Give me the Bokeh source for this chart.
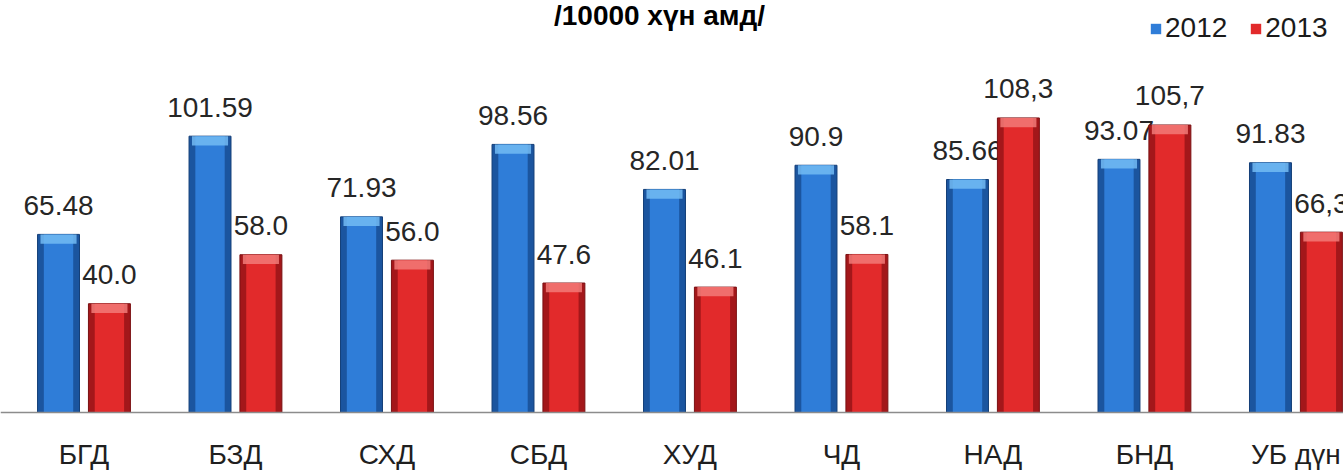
from bokeh.plotting import figure
from bokeh.models import ColumnDataSource, Range1d, Label, Legend, LegendItem, Span
from bokeh.transform import dodge
from bokeh.embed import file_html
from bokeh.resources import INLINE
from bokeh.core.properties import value

# ---- data ----
categories = ["БГД", "БЗД", "СХД", "СБД", "ХУД", "ЧД", "НАД", "БНД", "УБ дүн"]
series = ["2012", "2013"]
values_2012 = [65.48, 101.59, 71.93, 98.56, 82.01, 90.9, 85.66, 93.07, 91.83]
values_2013 = [40.0, 58.0, 56.0, 47.6, 46.1, 58.1, 108.3, 105.7, 66.3]
labels_2012 = ["65.48", "101.59", "71.93", "98.56", "82.01", "90.9", "85.66", "93.07", "91.83"]
labels_2013 = ["40.0", "58.0", "56.0", "47.6", "46.1", "58.1", "108,3", "105,7", "66,3"]
title_text = "/10000 хүн амд/"

# ---- style ----
FONT = "Liberation Sans"
W, H = 1343, 470
BAR_W = 0.277
OFF = 0.168
BEVEL = 3.4

idx = list(range(len(categories)))
src = ColumnDataSource(dict(
    x=idx, cat=categories, zero=[0] * len(idx),
    v12=values_2012, v13=values_2013, l12=labels_2012, l13=labels_2013,
    b12=[v - BEVEL for v in values_2012], b13=[v - BEVEL for v in values_2013],
))

p = figure(width=W, height=H, output_backend="svg", toolbar_location=None,
           x_range=Range1d(-0.551, 8.314), y_range=Range1d(-21.32, 151.47),
           x_axis_location=None, y_axis_location=None,
           min_border_left=0, min_border_right=0, min_border_top=0, min_border_bottom=0)
p.outline_line_color = None
p.grid.visible = False
p.background_fill_color = "white"
p.border_fill_color = "white"

# category axis line (baseline at value 0)
p.add_layout(Span(location=0, dimension="width", line_color="#8c8c8c", line_width=1.5))

# category labels under the baseline
p.text(x="x", y="zero", text="cat", source=src, text_align="center",
       text_baseline="alphabetic", y_offset=42, text_font=value(FONT),
       text_font_size="28px", text_color="#1f1f1f")

styles = [
    ("v12", "b12", "l12", -OFF, "#1b559f", "#2f7dd8", "#72bbf3", "#143f78"),
    ("v13", "b13", "l13", OFF, "#a3171a", "#e22a2b", "#f27a78", "#7a1012"),
]
legend_rs = []
for top, bot, lab, off, outer_c, main_c, bevel_c, edge_c in styles:
    xd = dodge("x", off)
    p.vbar(x=xd, top=top, width=BAR_W, source=src, fill_color=outer_c,
           line_color=edge_c, line_width=1)
    r = p.vbar(x=xd, top=top, width=BAR_W * 0.7, source=src, fill_color=main_c,
               line_color=None)
    p.vbar(x=xd, top=top, bottom=bot, width=BAR_W * 0.86, source=src,
           fill_color=bevel_c, fill_alpha=0.85, line_color=None)
    p.text(x=xd, y=top, text=lab, source=src, text_align="center",
           text_baseline="alphabetic", y_offset=-29, text_font=value(FONT),
           text_font_size="28px", text_color="#262626")
    legend_rs.append(r)

title = Label(x=659, y=H - 15, x_units="screen", y_units="screen", text=title_text,
              text_font=FONT, text_font_style="bold", text_font_size="28px",
              text_align="center", text_baseline="alphabetic", text_color="#000000")
p.add_layout(title)

legend = Legend(items=[LegendItem(label=s, renderers=[r]) for s, r in zip(series, legend_rs)],
                orientation="horizontal", location=(1149, H - 44),
                border_line_alpha=0, background_fill_alpha=0, padding=0, margin=0,
                glyph_width=13, glyph_height=13, label_standoff=3, spacing=22,
                label_text_font=FONT, label_text_font_size="28px",
                label_text_color="#1a1a1a")
p.add_layout(legend)

open("out.html", "w").write(file_html(p, INLINE))
